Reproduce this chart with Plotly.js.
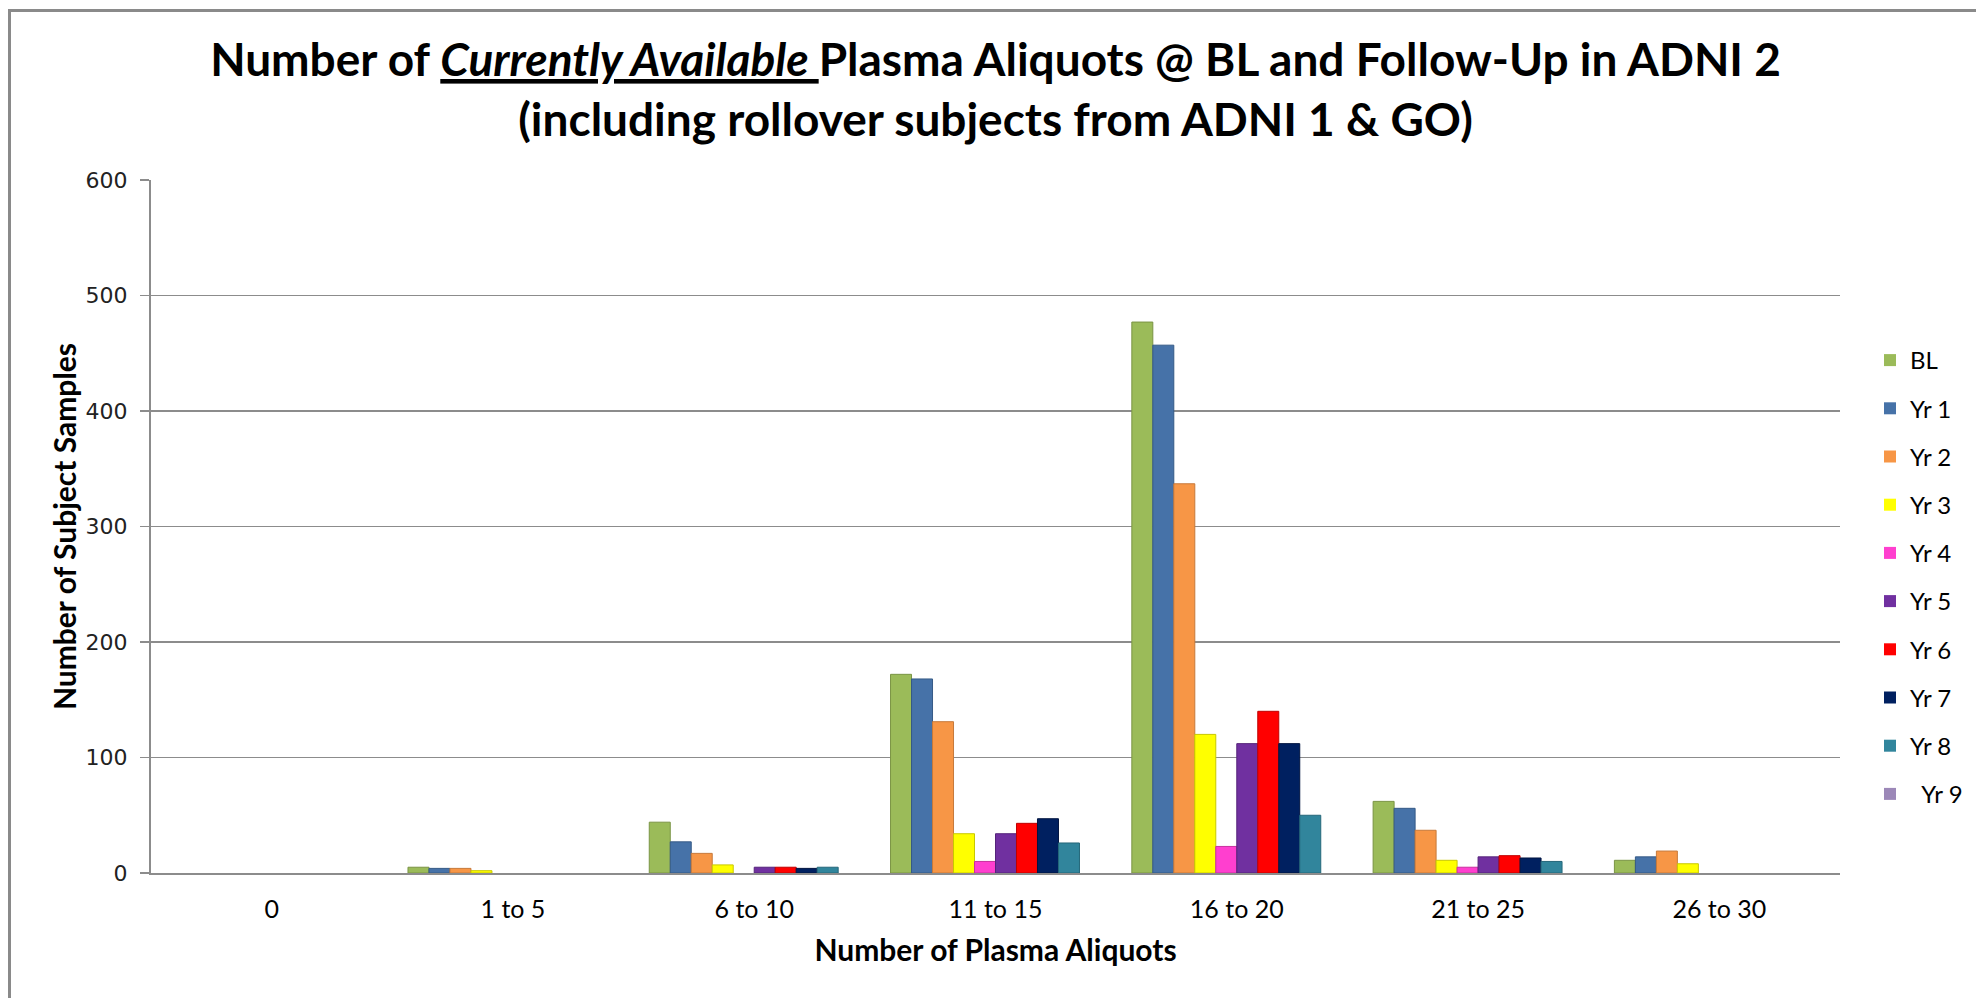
<!DOCTYPE html>
<html>
<head>
<meta charset="utf-8">
<script src="https://cdn.plot.ly/plotly-3.0.1.min.js"></script>
<style>
html, body { margin: 0; padding: 0; background: #fff; overflow: hidden; width: 1976px; height: 998px; }
#chart { position: absolute; left: 0; top: 0; width: 1976px; height: 998px; }
#frame { position: absolute; left: 8px; top: 8.5px; width: 2000px; height: 1000px;
  border-left: 3px solid #8a8a8a; border-top: 3px solid #8a8a8a; pointer-events: none; }
</style>
</head>
<body>
<div id="chart"></div>
<div id="frame"></div>
<script>
const categories = ["0", "1 to 5", "6 to 10", "11 to 15", "16 to 20", "21 to 25", "26 to 30"];
const seriesNames = ["BL", "Yr 1", "Yr 2", "Yr 3", "Yr 4", "Yr 5", "Yr 6", "Yr 7", "Yr 8", "\u00a0\u00a0Yr 9"];
const BL  = [0, 5, 44, 172, 477, 62, 11];
const Yr1 = [0, 4, 27, 168, 457, 56, 14];
const Yr2 = [0, 4, 17, 131, 337, 37, 19];
const Yr3 = [0, 2, 7, 34, 120, 11, 8];
const Yr4 = [0, 0, 0, 10, 23, 5, 0];
const Yr5 = [0, 0, 5, 34, 112, 14, 0];
const Yr6 = [0, 0, 5, 43, 140, 15, 0];
const Yr7 = [0, 0, 4, 47, 112, 13, 0];
const Yr8 = [0, 0, 5, 26, 50, 10, 0];
const Yr9 = [0, 0, 0, 0, 0, 0, 0];
const seriesValues = [BL, Yr1, Yr2, Yr3, Yr4, Yr5, Yr6, Yr7, Yr8, Yr9];
const colors = ["#9BBB59", "#4672A8", "#F79646", "#FFFF00", "#FF3FCF", "#7030A0", "#FF0000", "#002060", "#31859C", "#9C88B8"];
const lineColors = ["#7A9444", "#355A86", "#C7793A", "#C8C800", "#C8309F", "#55237A", "#C00000", "#001440", "#25677A", "#7A6A90"];

const traces = seriesNames.map((name, i) => ({
  type: "bar",
  name: name,
  x: categories,
  y: seriesValues[i],
  legendgroup: "g" + i,
  marker: {
    color: colors[i],
    line: { color: lineColors[i], width: seriesValues[i].map(v => (v > 0 ? 1 : 0)) }
  },
  hoverinfo: "x+y+name"
}));

const W = 1976, H = 998;
const L = 151, R = 136, T = 180, B = 125;

const layout = {
  width: W, height: H,
  margin: { l: L, r: R, t: T, b: B, pad: 0, autoexpand: false },
  paper_bgcolor: "#ffffff",
  plot_bgcolor: "#ffffff",
  barmode: "group",
  bargap: 0.13,
  bargroupgap: 0,
  font: { family: "Lato, 'Open Sans', sans-serif", color: "#000" },
  title: {
    text: "<b>Number of <i><span style='text-decoration:underline'>Currently Available </span></i>Plasma Aliquots @ BL and Follow-Up in ADNI 2<br>(including rollover subjects from ADNI 1 & GO)</b>",
    font: { family: "Lato, sans-serif", size: 46, color: "#000" },
    x: 0.5, xref: "paper", xanchor: "center",
    y: 1 - 76 / H, yref: "container", yanchor: "middle"
  },
  xaxis: {
    type: "category",
    showline: true, linecolor: "#8c8c8c", linewidth: 2,
    showgrid: false, ticks: "", zeroline: false,
    tickfont: { family: "Lato, sans-serif", size: 25, color: "#000" },
    ticklabelstandoff: 13,
    title: { text: "<b>Number of Plasma Aliquots</b>", font: { family: "Lato, sans-serif", size: 30, color: "#000" }, standoff: 18 }
  },
  yaxis: {
    range: [0, 600], dtick: 100, tick0: 0,
    showline: true, linecolor: "#8c8c8c", linewidth: 2,
    showgrid: true, gridcolor: "#8c8c8c", gridwidth: 1.2,
    zeroline: false,
    ticks: "outside", ticklen: 9, tickcolor: "#8c8c8c", tickwidth: 1.2,
    tickfont: { family: "'DejaVu Sans', sans-serif", size: 22, color: "#222" },
    ticklabelstandoff: 8,
    title: { text: "<b>Number of Subject Samples</b>", font: { family: "Lato, sans-serif", size: 30, color: "#000" }, standoff: 0 }
  },
  legend: {
    xref: "container", x: 1870 / W, xanchor: "left",
    yref: "container", y: 1 - 338 / H, yanchor: "top",
    font: { family: "Lato, sans-serif", size: 24, color: "#000" },
    bgcolor: "rgba(0,0,0,0)",
    tracegroupgap: 14,
    traceorder: "grouped",
    itemwidth: 30
  },
  showlegend: true
};

Plotly.newPlot("chart", traces, layout, { displayModeBar: false, staticPlot: true });
</script>
</body>
</html>
